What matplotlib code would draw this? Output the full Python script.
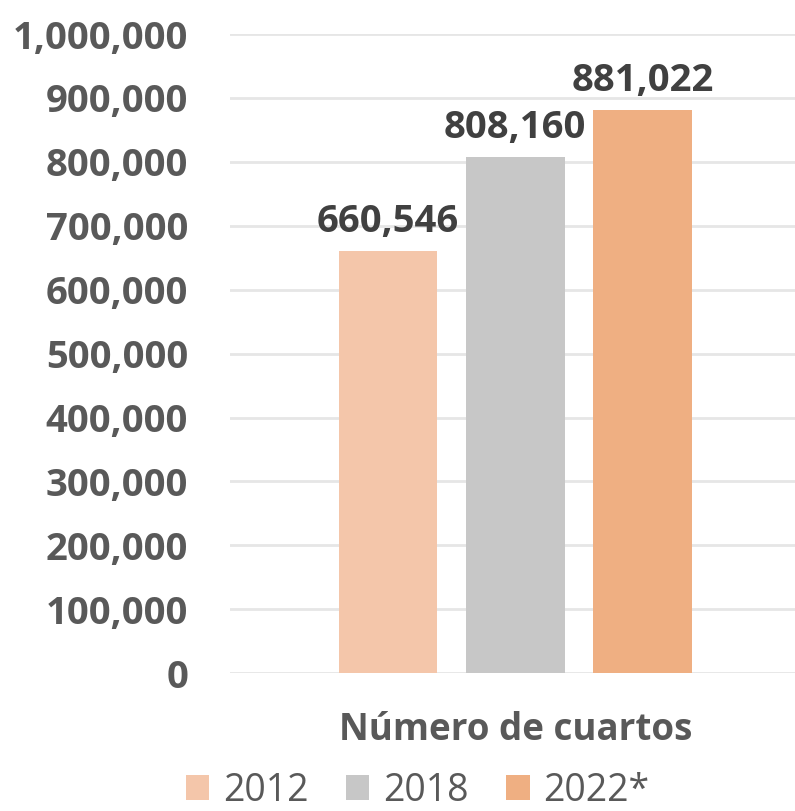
import matplotlib.pyplot as plt
from matplotlib.ticker import FuncFormatter

plt.rcParams['font.family'] = ['Open Sans', 'DejaVu Sans']

# datos
categoria = 'Número de cuartos'
anios = ['2012', '2018', '2022*']
cuartos = [660546, 808160, 881022]
colores = ['#F4C6AA', '#C7C7C7', '#EFAF82']

fig = plt.figure(figsize=(7.95, 8.11), dpi=100)
ax = fig.add_axes([0.289, 0.170, 0.711, 0.788])

ancho = 0.175
paso = 0.225
for i, (a, v, c) in enumerate(zip(anios, cuartos, colores)):
    b = ax.bar((i - 1) * paso, v, width=ancho, color=c, label=a, zorder=3)
    ax.bar_label(b, labels=[f'{v:,}'], padding=7, fontsize=27.5,
                 fontweight='bold', color='#404040')

ax.set_xlim(-0.505, 0.495)
ax.set_ylim(0, 1000000)
ax.set_yticks(range(0, 1000001, 100000))
ax.yaxis.set_major_formatter(FuncFormatter(lambda v, p: f'{int(v):,}'))
ax.set_xticks([0])
ax.set_xticklabels([categoria])

ax.grid(axis='y', color='#E6E6E6', linewidth=2, zorder=0)
for s in ax.spines.values():
    s.set_visible(False)
ax.tick_params(axis='y', length=0, pad=30, labelsize=27.5, labelcolor='#595959')
ax.tick_params(axis='x', length=0, pad=27, labelsize=26.5, labelcolor='#595959')
for t in ax.get_xticklabels() + ax.get_yticklabels():
    t.set_fontweight('bold')

ax.legend(loc='center', bbox_to_anchor=(0.525, 0.025), bbox_transform=fig.transFigure,
          ncol=3, frameon=False, fontsize=27, labelcolor='#595959',
          handlelength=0.63, handleheight=0.63, handletextpad=0.36,
          columnspacing=1.0, borderaxespad=0, borderpad=0)

plt.savefig('out.png', dpi=100)
